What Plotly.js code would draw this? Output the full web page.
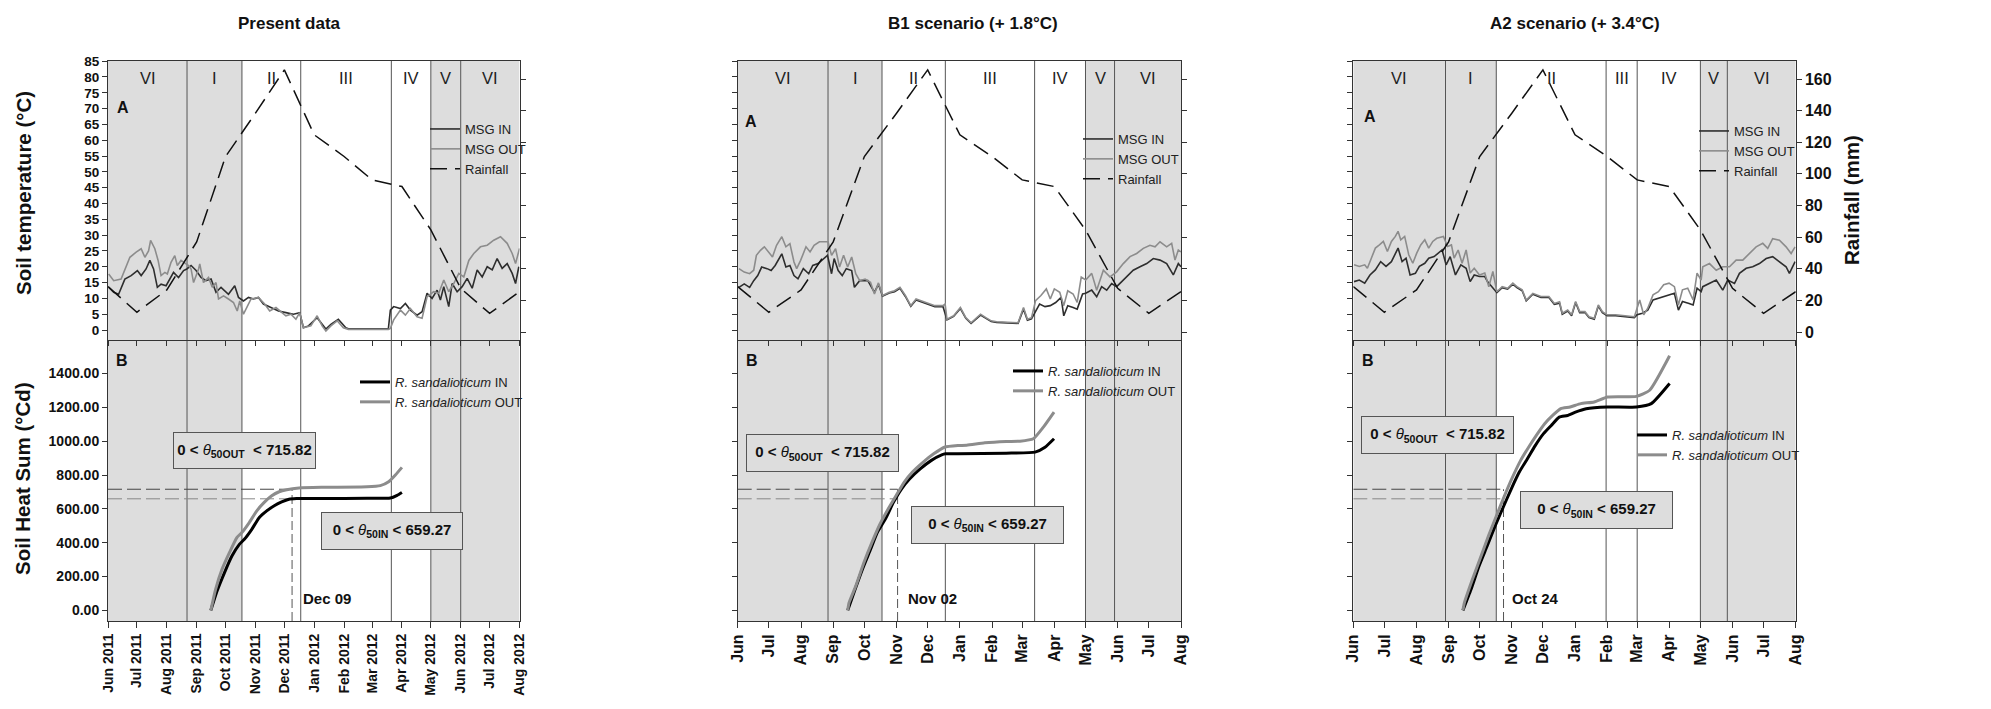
<!DOCTYPE html>
<html><head><meta charset="utf-8">
<script src="https://cdn.plot.ly/plotly-3.0.1.min.js"></script>
<style>html,body{margin:0;padding:0;background:#fff}#chart{width:1991px;height:709px}</style>
</head><body><div id="chart"></div>
<script>
// ---------------- DATA (days counted from 1 Jun 2011) ----------------
const rainMonths = ['2011-06-01','2011-07-01','2011-08-01','2011-09-01','2011-10-01','2011-11-01','2011-12-01','2012-01-01','2012-02-01','2012-03-01','2012-04-01','2012-05-01','2012-06-01','2012-07-01','2012-08-01'];
const rainfallMm = [28.7,12.5,26.6,57,111,138.4,165.8,124.7,111,96.2,92,64.6,27.6,11.8,25.5];

// Present data
const presentInDays = [0.7,5.9,11,17.5,24,30.5,34.4,39.5,43.4,47.3,51.2,55.1,60.3,68,73.2,78.4,81.8,86.2,91.4,96.5,101.7,106.9,112.1,117.3,125,131.5,135.4,140.6,145.8,151,156.1,161.3,169.1,176.9,184.6,192.4,198.9,202.8,208,217,226.1,231.3,239,246.8,249.4,290.9,293,296.4,303.4,308.6,313.8,320.7,325.9,331.1,336.3,341.5,344.9,348.4,353.6,357.1,362.3,367.5,372.7,377.9,383.1,388.3,393.5,398.7,403.8,409,414.2,419.4,422.9,426.3];
const presentInTemp = [13.5,11.9,11.3,16.1,17.2,18.8,17.2,19.3,22,19.3,13.5,14.5,14,18.2,16.6,18.8,19.3,20.4,18.8,16.6,15.6,16.1,11.9,13.5,11.3,14,10.3,9.2,10.3,9.8,10.3,8.2,7.1,6,5.5,5,5.5,0.7,1.3,3.9,0.3,1.8,3.4,0.7,0.4,0.4,6.3,7.4,6.8,8.4,6.3,4.7,5.8,11.6,10,12.6,9.5,13.7,7.4,14.7,12.1,13.7,16.3,13.2,19,16.8,20,19,22.6,19.5,21,17.9,14.7,20];
const presentOutDays = [0.7,5.9,13.6,22.7,29.2,34.4,38.3,42.1,44.2,47.3,48.6,52,55.1,59,61.6,65.4,69.3,71.9,75.8,81,83.6,86.2,88.8,94,95.2,99.1,104.3,108.2,112.1,114.7,119.9,125,130.2,134.1,136.7,140.6,148.4,156.1,162.6,167.8,174.3,184.6,189.8,195,198.9,202.8,210.5,217,222.2,226.1,231.3,237.8,244.2,249.4,290.9,293,296.4,303.4,308.6,313.8,320.7,325.9,331.1,338,343.2,348.4,353.6,358.8,364,369.2,374.4,379.6,386.5,393.5,400.3,407.3,414.2,419.4,422.9,427];
const presentOutTemp = [17.7,15.6,16.1,23,24.6,25.7,23,25,28.3,26.7,25.7,22,17.2,18.2,17.7,21.4,23.5,20.4,22,20.9,20.4,19.3,15,19.3,20.9,15,16.6,13.5,15,9.8,10.8,9.8,8.7,6,9.2,5,9.8,10.3,8.2,6,7.1,4.5,5,3.4,5.5,0.7,1.3,4.5,1.3,-0.3,1.3,2.9,0.7,0.2,0.2,0.5,3.2,6.3,4.7,6.8,4.2,3.7,10.5,12.1,11.6,15.8,12.1,14.7,17.9,16.8,22,24.2,26.3,26.8,28.4,29.5,27.4,24.2,21,25.8];
const presentHeatInDays = [106.7,113.1,120.8,128.6,136.3,141.5,149.2,157,164.7,172.5,180.2,187.8,195.6,221.4,268.8,293,300,305];
const presentHeatIn = [0,113,222,321,390,420,479,549,588,618,641,657,661,661,662,664,680,697];
const presentHeatOutDays = [106.7,111.6,118.3,126,133.7,138.9,146.6,154.4,162.1,169.9,177.6,185.4,198.2,221.4,268.8,282.6,291.2,298.2,305];
const presentHeatOut = [0,123,242,341,430,460,519,588,638,677,701,713,723,727,730,737,760,800,845];
const presentPeriodBounds = ['2011-06-01','2011-08-22','2011-10-18','2011-12-18','2012-03-21','2012-05-01','2012-06-01','2012-08-01'];

// B1 scenario
const b1InDays = [1.2,6.3,11.5,15.4,19.3,23.1,28.3,32.2,36.1,39.9,42.5,46.4,50.3,54.2,58.1,63.2,68.4,72.3,77.4,86.5,90.4,92.9,96.8,100.7,104.6,109.8,112.4,117.5,125.3,131.7,135.6,139.5,146,151.1,156.3,161.5,166.7,171.8,182.2,189.9,197.7,201.6,208,214.5,219.7,224.8,233.9,239,244.2,249.4,270.1,275.3,279.1,283,285.6,290.8,296,301.1,306.3,311.5,314.1,317.9,323.1,327,332.2,335.2,341,345.8,350.6,355.4,360.2,365,369.9,374.7,381,387.5,394,400.3,406.8,413.2,419.6,424.4,427];
const b1InTemp = [13.5,14.6,13.5,15.6,17.2,19.9,19.4,18.8,20.4,22.6,24.1,19.9,20.4,17.2,16.2,19.4,17.8,20.4,21,23.6,17.8,22.6,18.8,17.2,19.4,18.8,13.5,15.6,15.6,11.9,14.5,10.7,11.7,12.1,13.2,10.6,7.5,9.5,8.4,7.4,7.4,3.2,4.3,6.8,3.7,2.1,4.7,3.7,2.7,2.4,2.1,6.6,3.1,3.5,5,8.2,7.4,7.7,8.7,10.3,4.5,7.7,7.1,6.6,11.4,11.6,12.6,10.5,13.7,12.6,14.7,13.7,15.3,16.8,18.9,20,21,22.6,22.1,21,17.4,21,20];
const b1OutDays = [1.2,6.3,11.5,15.4,18,21.9,25.7,29.6,33.5,37.4,42.5,46.4,50.3,54.2,56.8,60.6,65.8,69.7,73.6,78.7,87,90.4,94.3,98.1,102,105.9,109.8,113.7,117.5,122.7,127.9,131.7,135.6,139.5,146,151.1,156.3,161.5,166.7,171.8,182.2,189.9,197.7,199.8,201.6,208,214.5,219.7,224.8,233.9,239,244.2,249.4,270.1,275.3,279.1,283,286.9,292.1,297.3,301.1,305,310.2,314.1,317.9,323.1,327,330.9,335.2,341,345.8,352.2,358.6,365,371.4,377.9,384.3,390.7,397.1,402,406.8,413.2,418,421.2,424.4,427];
const b1OutTemp = [19.4,18.3,17.8,18.9,23.6,25.2,26.3,24.7,23.1,26.8,29.5,26.3,27.3,21.5,19.4,22,26.3,24.7,26.8,27.9,27.9,23.6,25.7,19.9,23.6,19.9,23.1,17.8,15.6,16.1,15.1,11.4,14.9,10.9,11.9,12.4,13.5,10.9,7.7,9.8,8.7,7.7,7.7,8.2,3.4,4.5,7.1,3.9,2.3,5,3.9,2.9,2.6,2.3,7.1,3.4,3.9,9.3,10.9,13,9.8,13,11.9,7.7,12.4,11.4,8.7,16.7,15.8,17.9,12.6,18.9,16.8,18.4,21,23.2,24.2,25.8,26.8,26.3,27.9,26.3,27.4,22.1,25.3,24.7];
const b1HeatInDays = [106,112.4,120.1,127.9,134.4,142.2,150,157.7,165.5,175.8,186.2,196.5,200.3,212.1,258.6,286.4,296,304.7];
const b1HeatIn = [0,113,242,360,460,539,638,717,776,836,885,919,925,925,929,935,964,1014];
const b1HeatOutDays = [106,107.2,113.7,121.5,129.2,137,144.8,152.5,160.3,168.1,178.4,188.8,199.1,212.1,220.6,238,258.6,271.9,284.7,294.4,304.7];
const b1HeatOut = [0,44,143,281,400,509,598,677,757,816,875,925,964,974,976,990,998,1000,1014,1083,1172];
const b1PeriodBounds = ['2011-06-01','2011-08-27','2011-10-18','2011-12-18','2012-03-13','2012-05-01','2012-05-29','2012-08-01'];

// A2 scenario
const a2InDays = [0.7,5.8,11,16.1,21.3,26.4,31.6,36.8,43.2,47.1,50.9,54.8,59.9,63.8,69,72.8,78,85.7,89.6,93.5,98.6,103.8,108.9,112.8,116.7,121.8,126.9,129.5,138.6,143.7,148.9,154,157.9,163,166.9,173.3,181.1,188.8,194,199.1,201.7,206.9,210.7,214.6,218.5,223.6,227.5,232.6,236.5,240.4,245,253.2,271.3,273.9,279,284.2,289.3,294.5,299.6,304.8,309.9,313.8,317.7,324.1,328,331.8,335.7,337.3,343.8,350.3,356.6,361.4,367.9,372.7,379.2,385.5,392,398.5,404.8,411.3,417.7,420.9,426.4];
const a2InTemp = [15.3,15.8,14.8,17.4,19,21.6,20.1,21.6,25.9,21.6,22.7,17.4,17.9,20.1,21.1,22.7,23.2,25.3,20.6,23.2,17.4,20.6,19.5,15.3,17.4,16.9,16.9,15.3,11.8,13.4,12.9,14.5,13.4,12.4,9.2,11.3,10.3,10.3,8.1,8.5,5,6,4.5,8.7,5.5,5.5,3.9,3.4,7.6,5.5,4.5,4.5,3.9,4.8,5.3,6.3,9.5,10,10.6,11.1,11.6,6.3,9,8.4,7.9,13.2,12.1,13.7,14.7,15.8,12.6,15.8,14.7,17.9,19.5,20,21,22.6,23.2,21.6,20,17.9,21.6];
const a2OutDays = [0.7,5.8,11,13.6,17.4,21.3,25.2,29,32.9,36.8,40.6,43.2,45.8,49.6,53.5,57.4,61.2,65.1,69,72.8,76.7,80.6,87,90.9,94.7,97.3,101.2,105,108.9,112.8,116.7,121.8,126.9,130.8,134.7,138.6,143.7,148.9,154,157.9,163,166.9,173.3,181.1,188.8,194,199.1,201.7,206.9,210.7,214.6,218.5,223.6,227.5,232.6,236.5,240.4,245,253.2,271.3,276.4,280.3,284.2,289.3,294.5,299.6,304.8,309.9,313.8,317.7,322.8,328,331.8,335.7,337.3,343.8,350.3,356.6,363.1,369.5,375.9,382.4,388.8,395.2,400,404.8,411.3,417.7,422.6,426.4];
const a2OutTemp = [20.6,20.1,20.6,19.5,22.7,25.9,26.9,28,24.8,28,29.6,31.2,28.5,29.6,23.8,21.1,24.3,26.9,28.5,25.9,28,29,29.6,26.4,26.9,22.7,25.3,21.1,25.3,18,19.5,17.4,18,13.7,18.5,12.1,13.7,13.2,14.8,13.7,12.7,9.5,11.6,10.6,10.6,8.4,8.9,5.3,6.3,4.8,9,5.8,5.8,4.2,3.7,7.9,5.8,4.8,4.8,4.2,9.5,4.8,6.9,11.1,12.1,14.3,14.8,13.7,7.9,12.7,13.2,9.5,18,15.8,20,21,18.9,20,20,22.1,22.1,24.2,26.3,27.4,25.8,28.9,28.4,26.3,24.2,26.3];
const a2HeatInDays = [105.8,113.6,121.3,129.2,136.9,144.6,152.4,160.1,167.9,175.6,183.4,191.1,198.8,206.7,214.4,224.8,245.4,273.2,287.6,305.3];
const a2HeatIn = [0,123,261,380,499,608,717,816,895,974,1043,1093,1142,1152,1172,1192,1202,1202,1222,1341];
const a2HeatOutDays = [105.8,107.2,114.9,122.7,130.4,138.1,145.9,153.6,161.4,169.2,177,184.7,192.4,200.2,209.3,219.6,232.5,245.4,273.2,286,305.3];
const a2HeatOut = [0,44,182,311,439,558,677,786,885,964,1037,1103,1152,1192,1202,1222,1232,1261,1265,1301,1505];
const a2PeriodBounds = ['2011-06-01','2011-08-29','2011-10-17','2012-01-31','2012-03-01','2012-05-01','2012-05-27','2012-08-01'];

const periodNames = ['VI','I','II','III','IV','V','VI'];
const periodShaded = [true,true,false,false,false,true,true];
const panelTitles = ['Present data','B1 scenario (+ 1.8°C)','A2 scenario (+ 3.4°C)'];
const crossDates = ['2011-12-09','2011-11-02','2011-10-24'];
const crossLabels = ['Dec 09','Nov 02','Oct 24'];
const thetaOut = 715.82, thetaIn = 659.27;
const legendTempNames = ['MSG IN','MSG OUT','Rainfall'];
const legendHeatNames = ['<i>R. sandalioticum</i> IN','<i>R. sandalioticum</i> OUT'];

// ---------------- LAYOUT ----------------
const W = 1991, H = 709;
const FONT = '"Liberation Sans",Arial,sans-serif';
const px = x => x / W, py = y => 1 - y / H;
const START = Date.UTC(2011, 5, 1);
function dayToDate(d) {
  const t = new Date(START + Math.round(d * 24) * 3600000);
  return t.toISOString().slice(0, 16).replace('T', ' ');
}
function midDate(a, b) {
  const t = new Date((Date.parse(a + 'T00:00:00Z') + Date.parse(b + 'T00:00:00Z')) / 2);
  return t.toISOString().slice(0, 16).replace('T', ' ');
}
const ref = (p, n) => n === 1 ? p : p + n;
const key = (p, n) => n === 1 ? p + 'axis' : p + 'axis' + n;

const TEMP_RANGE = [-3.16, 85.05], RAIN_RANGE = [-5.06, 171.4], HEAT_RANGE = [-63, 1598];
const DATE_RANGE = ['2011-06-01', '2012-08-01'];
const TOP_DOMAIN = [py(340), py(61)], BOT_DOMAIN = [py(621), py(340)];

const panels = [
  {inD:presentInDays,inT:presentInTemp,outD:presentOutDays,outT:presentOutTemp,hID:presentHeatInDays,hI:presentHeatIn,hOD:presentHeatOutDays,hO:presentHeatOut,bounds:presentPeriodBounds,
   left:108,right:519.5,tickFmt:'%b %Y',tickSize:14,legA:[425,114],legB:[355,367],boxOut:[244.7,450.4,143,37],boxIn:[392,530.5,142,37.6],aPos:[122.7,108],bPos:[122,360.7],titleX:289,labelShift:9},
  {inD:b1InDays,inT:b1InTemp,outD:b1OutDays,outT:b1OutTemp,hID:b1HeatInDays,hI:b1HeatIn,hOD:b1HeatOutDays,hO:b1HeatOut,bounds:b1PeriodBounds,
   left:737.7,right:1181,tickFmt:'%b',tickSize:16,legA:[1078,124],legB:[1008,356],boxOut:[822.7,453.3,153,38],boxIn:[987.7,524.5,153,37.6],aPos:[750.7,121.7],bPos:[752.3,360],titleX:973,labelShift:8},
  {inD:a2InDays,inT:a2InTemp,outD:a2OutDays,outT:a2OutTemp,hID:a2HeatInDays,hI:a2HeatIn,hOD:a2HeatOutDays,hO:a2HeatOut,bounds:a2PeriodBounds,
   left:1353.3,right:1795.7,tickFmt:'%b',tickSize:16,legA:[1694,116],legB:[1632,420],boxOut:[1437.2,435.2,153,38],boxIn:[1596.3,509.7,153,38],aPos:[1370,116.7],bPos:[1368.3,360.7],titleX:1575,labelShift:6}
];

const traces = [], shapes = [], annotations = [];
const layout = {
  width: W, height: H, margin: {l:0,r:0,t:0,b:0}, paper_bgcolor:'#fff', plot_bgcolor:'rgba(0,0,0,0)',
  font: {family: FONT, color: '#111'}, showlegend: true
};
const axLine = {showline:true, linecolor:'#333', linewidth:1, showgrid:false, zeroline:false, fixedrange:true, tickcolor:'#333', tickwidth:1};

panels.forEach((p, i) => {
  const xb = i + 1, xt = i + 4, yT = i * 3 + 1, yR = i * 3 + 2, yH = i * 3 + 3;
  const dom = [px(p.left), px(p.right)];
  const legA = i === 0 ? 'legend' : 'legend' + (i * 2 + 1);
  const legB = 'legend' + (i * 2 + 2);

  layout[key('x', xb)] = Object.assign({}, axLine, {domain:dom, anchor:ref('y', yH), type:'date', range:DATE_RANGE,
    tick0:'2011-06-01', dtick:'M1', tickformat:p.tickFmt, tickangle:-90, ticks:'outside', ticklen:6,
    tickfont:{family:FONT, size:p.tickSize, weight:'bold', color:'#111'}});
  layout[key('x', xt)] = Object.assign({}, axLine, {domain:dom, anchor:ref('y', yT), type:'date', range:DATE_RANGE,
    matches:ref('x', xb), tick0:'2011-06-01', dtick:'M1', ticks:'outside', ticklen:5, showticklabels:false, mirror:true});
  layout[key('y', yT)] = Object.assign({}, axLine, {domain:TOP_DOMAIN, anchor:ref('x', xt), range:TEMP_RANGE, tick0:0, dtick:5,
    ticks:'outside', ticklen:5, showticklabels:i === 0, tickfont:{family:FONT, size:13.5, weight:'bold', color:'#111'}});
  layout[key('y', yR)] = Object.assign({}, axLine, {overlaying:ref('y', yT), anchor:ref('x', xt), side:'right', range:RAIN_RANGE, tick0:0, dtick:20,
    ticks:'outside', ticklen:5, showticklabels:i === 2, tickfont:{family:FONT, size:16, weight:'bold', color:'#111'}});
  layout[key('y', yH)] = Object.assign({}, axLine, {domain:BOT_DOMAIN, anchor:ref('x', xb), range:HEAT_RANGE, tick0:0, dtick:200, tickformat:'.2f',
    ticks:'outside', ticklen:5, mirror:true, showticklabels:i === 0, tickfont:{family:FONT, size:14, weight:'bold', color:'#111'}});

  // period shading + boundaries
  for (let k = 0; k < periodNames.length; k++) {
    if (periodShaded[k]) shapes.push({type:'rect', layer:'below', xref:ref('x', xb), yref:'paper', x0:p.bounds[k], x1:p.bounds[k + 1],
      y0:BOT_DOMAIN[0], y1:TOP_DOMAIN[1], fillcolor:'#dddddd', line:{width:0}});
    annotations.push({xref:ref('x', xb), yref:'paper', x:midDate(p.bounds[k], p.bounds[k + 1]), y:py(78), text:periodNames[k], showarrow:false,
      font:{family:FONT, size:16.5, color:'#222'}, xanchor:'center', yanchor:'middle'});
  }
  for (let k = 1; k < periodNames.length; k++) {
    shapes.push({type:'line', layer:'below', xref:ref('x', xb), yref:'paper', x0:p.bounds[k], x1:p.bounds[k],
      y0:BOT_DOMAIN[0], y1:TOP_DOMAIN[1], line:{color:'#555', width:1}});
  }

  // temperature + rainfall
  traces.push({type:'scatter', mode:'lines', name:legendTempNames[0], legend:legA, showlegend:true, xaxis:ref('x', xt), yaxis:ref('y', yT),
    x:p.inD.map(dayToDate), y:p.inT, line:{color:'#2e2e2e', width:1.6}});
  traces.push({type:'scatter', mode:'lines', name:legendTempNames[1], legend:legA, showlegend:true, xaxis:ref('x', xt), yaxis:ref('y', yT),
    x:p.outD.map(dayToDate), y:p.outT, line:{color:'#8c8c8c', width:1.6}});
  traces.push({type:'scatter', mode:'lines', name:legendTempNames[2], legend:legA, showlegend:true, xaxis:ref('x', xt), yaxis:ref('y', yR),
    x:rainMonths, y:rainfallMm, line:{color:'#111', width:1.5, dash:'17px,8px'}});

  // thresholds
  traces.push({type:'scatter', mode:'lines', showlegend:false, xaxis:ref('x', xb), yaxis:ref('y', yH),
    x:[DATE_RANGE[0], crossDates[i]], y:[thetaOut, thetaOut], line:{color:'#444', width:1, dash:'14px,5px'}});
  traces.push({type:'scatter', mode:'lines', showlegend:false, xaxis:ref('x', xb), yaxis:ref('y', yH),
    x:[DATE_RANGE[0], crossDates[i]], y:[thetaIn, thetaIn], line:{color:'#888', width:1, dash:'14px,5px'}});
  traces.push({type:'scatter', mode:'lines', showlegend:false, xaxis:ref('x', xb), yaxis:ref('y', yH), cliponaxis:false,
    x:[crossDates[i], crossDates[i]], y:[HEAT_RANGE[0], thetaOut], line:{color:'#555', width:1, dash:'9px,4px'}});

  // heat sums
  traces.push({type:'scatter', mode:'lines', name:legendHeatNames[0], legend:legB, showlegend:true, xaxis:ref('x', xb), yaxis:ref('y', yH),
    x:p.hID.map(dayToDate), y:p.hI, line:{color:'#000', width:3, shape:'spline', smoothing:0.5}});
  traces.push({type:'scatter', mode:'lines', name:legendHeatNames[1], legend:legB, showlegend:true, xaxis:ref('x', xb), yaxis:ref('y', yH),
    x:p.hOD.map(dayToDate), y:p.hO, line:{color:'#8c8c8c', width:3, shape:'spline', smoothing:0.5}});

  const legBase = {xanchor:'left', yanchor:'top', bgcolor:'rgba(0,0,0,0)', borderwidth:0, tracegroupgap:0,
    font:{family:FONT, size:13, color:'#222'}};
  layout[legA] = Object.assign({}, legBase, {x:px(p.legA[0]), y:py(p.legA[1])});
  layout[legB] = Object.assign({}, legBase, {x:px(p.legB[0]), y:py(p.legB[1])});

  // titles and labels
  annotations.push({xref:'paper', yref:'paper', x:px(p.titleX), y:py(24), text:'<b>' + panelTitles[i] + '</b>', showarrow:false,
    font:{family:FONT, size:17, color:'#111'}, xanchor:'center', yanchor:'middle'});
  annotations.push({xref:'paper', yref:'paper', x:px(p.aPos[0]), y:py(p.aPos[1]), text:'<b>A</b>', showarrow:false,
    font:{family:FONT, size:16, color:'#111'}, xanchor:'center', yanchor:'middle'});
  annotations.push({xref:'paper', yref:'paper', x:px(p.bPos[0]), y:py(p.bPos[1]), text:'<b>B</b>', showarrow:false,
    font:{family:FONT, size:16, color:'#111'}, xanchor:'center', yanchor:'middle'});
  const boxStyle = {xref:'paper', yref:'paper', showarrow:false, bgcolor:'#dddddd', bordercolor:'#555', borderwidth:1, borderpad:0,
    font:{family:FONT, size:15, color:'#111'}, align:'center', valign:'middle', xanchor:'center', yanchor:'middle'};
  annotations.push(Object.assign({}, boxStyle, {x:px(p.boxOut[0]), y:py(p.boxOut[1]), width:p.boxOut[2] - 2, height:p.boxOut[3] - 2,
    text:'<b>0 &lt; </b><i>θ</i><b><sub>50OUT</sub>  &lt; ' + thetaOut.toFixed(2) + '</b>'}));
  annotations.push(Object.assign({}, boxStyle, {x:px(p.boxIn[0]), y:py(p.boxIn[1]), width:p.boxIn[2] - 2, height:p.boxIn[3] - 2,
    text:'<b>0 &lt; </b><i>θ</i><b><sub>50IN</sub> &lt; ' + thetaIn.toFixed(2) + '</b>'}));
  annotations.push({xref:ref('x', xb), yref:'paper', x:crossDates[i], y:py(598), xshift:p.labelShift, text:'<b>' + crossLabels[i] + '</b>', showarrow:false,
    font:{family:FONT, size:15, color:'#111'}, xanchor:'left', yanchor:'middle'});
});

// axis titles
annotations.push({xref:'paper', yref:'paper', x:px(23), y:py(193), text:'<b>Soil temperature (°C)</b>', textangle:-90, showarrow:false,
  font:{family:FONT, size:20.5, color:'#111'}, xanchor:'center', yanchor:'middle'});
annotations.push({xref:'paper', yref:'paper', x:px(23), y:py(479), text:'<b>Soil Heat Sum (°Cd)</b>', textangle:-90, showarrow:false,
  font:{family:FONT, size:20.5, color:'#111'}, xanchor:'center', yanchor:'middle'});
annotations.push({xref:'paper', yref:'paper', x:px(1851), y:py(200), text:'<b>Rainfall (mm)</b>', textangle:-90, showarrow:false,
  font:{family:FONT, size:20.5, color:'#111'}, xanchor:'center', yanchor:'middle'});

layout.shapes = shapes;
layout.annotations = annotations;
Plotly.newPlot('chart', traces, layout, {displayModeBar:false, staticPlot:true});
</script>
</body></html>
